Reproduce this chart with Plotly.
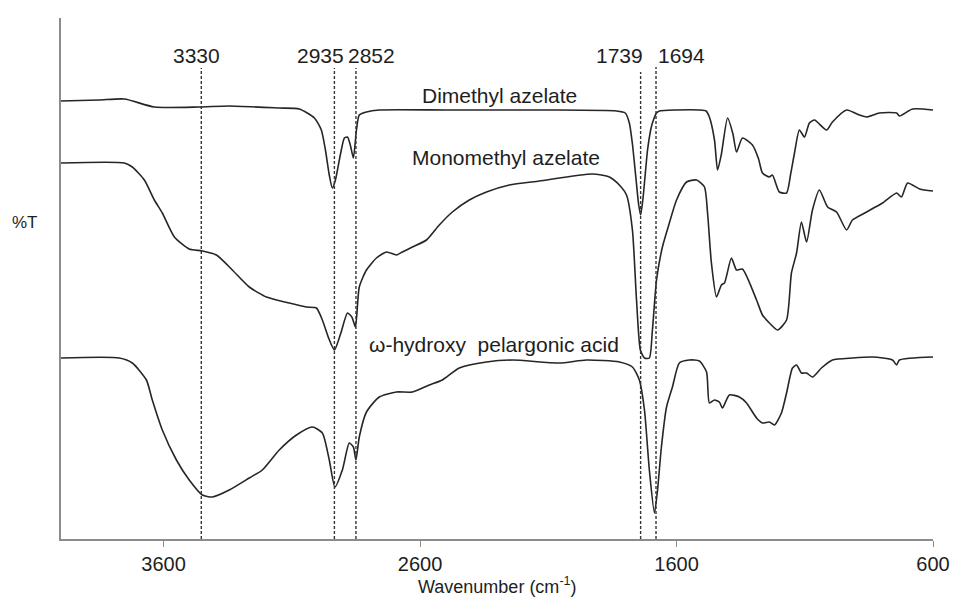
import plotly.graph_objects as go

# ---------------- data (wavenumber cm-1, relative %T) ----------------
dma_x = [4000, 3851, 3753, 3636, 3461, 3344, 3149, 3071, 3012, 2985, 2969, 2954, 2942, 2930,
         2911, 2895, 2883, 2872, 2860, 2848, 2837, 2809, 2759, 2500, 2100, 1834, 1800, 1784,
         1772, 1758, 1748, 1740, 1731, 1713, 1700, 1694, 1678, 1667, 1600, 1511, 1485, 1472,
         1452, 1440, 1425, 1401, 1380, 1366, 1343, 1304, 1280, 1265, 1238, 1226, 1199, 1171,
         1155, 1140, 1121, 1101, 1082, 1062, 1015, 992, 937, 887, 859, 809, 742, 731, 680, 600]
dma_y = [438, 439, 440, 432, 432, 433, 431, 430, 421, 409, 389, 364, 351, 359,
         384, 401, 402, 394, 381, 409, 424, 427, 429, 429, 429, 428, 426, 416,
         395, 360, 335, 324, 340, 389, 410, 416, 426, 428, 429, 429, 428, 422,
         399, 369, 385, 421, 405, 387, 401, 394, 380, 366, 362, 364, 347, 346,
         365, 386, 409, 402, 416, 419, 409, 417, 429, 424, 422, 426, 426, 423, 430, 429]

mma_x = [4000, 3753, 3722, 3675, 3636, 3605, 3558, 3500, 3449, 3394, 3332, 3266, 3199, 3110,
         3043, 3004, 2981, 2955, 2934, 2910, 2883, 2866, 2852, 2837, 2809, 2770, 2731, 2692,
         2669, 2630, 2575, 2525, 2474, 2408, 2341, 2252, 2135, 1928, 1862, 1823, 1795, 1772,
         1756, 1741, 1725, 1706, 1694, 1678, 1655, 1628, 1600, 1561, 1522, 1491, 1479, 1464,
         1444, 1425, 1413, 1386, 1366, 1343, 1288, 1265, 1238, 1206, 1171, 1152, 1132, 1113,
         1093, 1070, 1043, 1011, 976, 937, 914, 859, 797, 742, 723, 699, 652, 600]
mma_y = [376, 376, 372, 359, 339, 326, 302, 290, 288, 284, 269, 252, 242, 236,
         232, 231, 219, 200, 189, 205, 226, 222, 212, 252, 269, 281, 287, 284,
         287, 292, 299, 314, 327, 339, 347, 354, 358, 365, 362, 354, 344, 309,
         239, 189, 181, 181, 209, 259, 292, 316, 339, 357, 359, 352, 326, 276,
         242, 254, 256, 281, 269, 270, 239, 224, 216, 209, 219, 266, 286, 317,
         297, 329, 349, 332, 327, 309, 319, 327, 336, 346, 342, 356, 350, 348]

hpa_x = [4000, 3773, 3722, 3667, 3644, 3605, 3550, 3500, 3449, 3410, 3344, 3266, 3215, 3149,
         3082, 3020, 2981, 2954, 2932, 2903, 2876, 2860, 2850, 2837, 2809, 2759, 2692, 2630,
         2564, 2513, 2447, 2341, 2240, 2057, 1951, 1823, 1772, 1745, 1725, 1706, 1686, 1674,
         1659, 1639, 1616, 1589, 1550, 1511, 1483, 1472, 1452, 1433, 1421, 1394, 1355, 1327,
         1288, 1265, 1238, 1218, 1191, 1171, 1148, 1132, 1113, 1093, 1070, 1035, 992, 914,
         836, 758, 742, 731, 600]
hpa_y = [181, 181, 176, 159, 139, 109, 79, 59, 44, 42, 49, 61, 69, 89,
         104, 112, 106, 79, 52, 69, 96, 92, 79, 102, 127, 142, 147, 147,
         154, 159, 171, 177, 179, 176, 179, 177, 172, 159, 129, 69, 26, 49,
         92, 132, 152, 176, 179, 178, 167, 136, 139, 137, 131, 144, 142, 136,
         121, 116, 117, 114, 126, 146, 171, 174, 166, 166, 162, 171, 179, 181,
         182, 179, 174, 179, 182]

series_names = ["Dimethyl azelate", "Monomethyl azelate", "ω-hydroxy\u00a0 pelargonic acid"]
series_label_x = [2291, 2263, 2310]
series_label_y = [444, 382, 195]

peak_labels = ["3330", "2935", "2852", "1739", "1694"]
peak_line_x = [3453, 2934, 2850, 1740, 1680]
peak_line_top = [471, 471, 471, 467, 472]
peak_label_x = [3472, 2989, 2790, 1823, 1581]
peak_label_y = 484

x_ticks = [3600, 2600, 1600, 600]
x_title = "Wavenumber (cm<sup>-1</sup>)"
y_title = "%T"

# ---------------- figure ----------------
FONT = "Arial, 'Liberation Sans', sans-serif"
INK = "#1e1e1e"

fig = go.Figure()
for xs, ys in [(dma_x, dma_y), (mma_x, mma_y), (hpa_x, hpa_y)]:
    fig.add_trace(go.Scatter(x=xs, y=ys, mode="lines",
                             line=dict(color="#262626", width=1.6, shape="spline", smoothing=0.6),
                             showlegend=False, hoverinfo="skip"))

for lx, top in zip(peak_line_x, peak_line_top):
    fig.add_shape(type="line", xref="x", yref="y", x0=lx, x1=lx, y0=0, y1=top,
                  line=dict(color="#333333", width=1.4, dash="3px,2px"))

for lab, lx in zip(peak_labels, peak_label_x):
    fig.add_annotation(x=lx, y=peak_label_y, xref="x", yref="y", text=lab, showarrow=False,
                       xanchor="center", font=dict(family=FONT, size=21, color=INK))

for name, sx, sy in zip(series_names, series_label_x, series_label_y):
    fig.add_annotation(x=sx, y=sy, xref="x", yref="y", text=name, showarrow=False,
                       xanchor="center", font=dict(family=FONT, size=21, color=INK))

fig.add_annotation(x=(25 - 61) / 872, y=539 - 222, xref="x domain", yref="y", text=y_title,
                   showarrow=False, xanchor="center", yanchor="middle",
                   font=dict(family=FONT, size=17, color=INK))

fig.add_annotation(x=0.5, y=-60 / 521, xref="x domain", yref="y domain", text=x_title,
                   showarrow=False, xanchor="center", yanchor="bottom",
                   font=dict(family=FONT, size=18, color=INK))

fig.update_layout(
    width=954, height=601,
    margin=dict(l=61, r=21, t=18, b=62),
    paper_bgcolor="white", plot_bgcolor="white",
    font=dict(family=FONT, size=17, color=INK),
    xaxis=dict(range=[4000, 600], tickvals=x_ticks, ticks="outside", ticklen=6,
               tickcolor="#8c8c8c", showline=True, linecolor="#8c8c8c", linewidth=1.5,
               showgrid=False, zeroline=False, automargin=False,
               tickfont=dict(size=20, family=FONT, color=INK)),
    yaxis=dict(range=[0, 521], showticklabels=False, ticks="", showline=True,
               linecolor="#8c8c8c", linewidth=1.5, showgrid=False, zeroline=False,
               automargin=False),
)

fig.write_html("out.html")
